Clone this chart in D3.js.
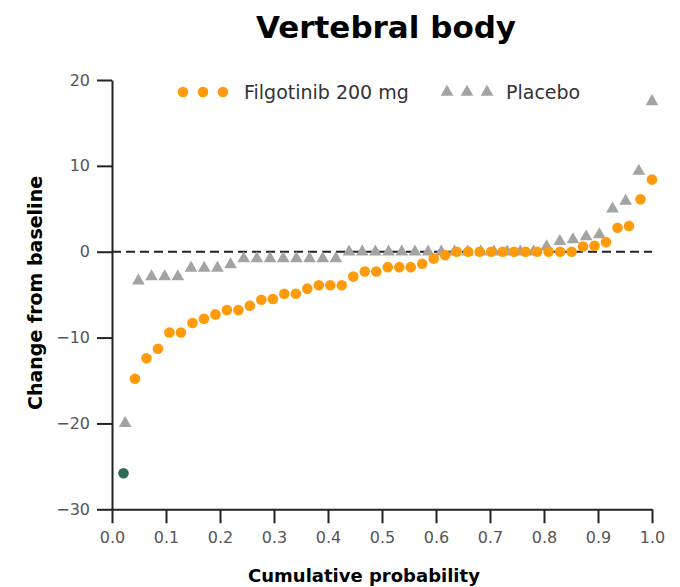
<!DOCTYPE html>
<html>
<head>
<meta charset="utf-8">
<script src="https://cdn.jsdelivr.net/npm/d3@7"></script>
<style>
  body { margin: 0; background: #fff; }
  .axis text { font-family: 'DejaVu Sans', Verdana, sans-serif; font-size: 16px; fill: #555; }
  .axis path, .axis line { stroke: #222; stroke-width: 2px; }
</style>
</head>
<body>
<div class="chart"></div>
<script>
// change from baseline, sorted, one value per patient
var filgoValues = [
  -25.8, -14.8, -12.4, -11.3, -9.4, -9.4, -8.3, -7.8, -7.3, -6.8,
  -6.8, -6.3, -5.6, -5.5, -4.9, -4.9, -4.3, -3.9, -3.9, -3.9,
  -2.9, -2.3, -2.3, -1.8, -1.8, -1.8, -1.4, -0.8, -0.4, 0,
  0, 0, 0, 0, 0, 0, 0, 0, 0, 0,
  0.6, 0.7, 1.1, 2.8, 3.0, 6.1, 8.4
];
var filgoHighlight = [0]; // first point drawn in green

var placeboValues = [
  -20, -3.4, -2.9, -2.9, -2.9, -1.9, -1.9, -1.9, -1.5, -0.8,
  -0.8, -0.8, -0.8, -0.8, -0.8, -0.8, -0.8, 0, 0, 0,
  0, 0, 0, 0, 0, 0, 0, 0, 0, 0,
  0, 0, 0.6, 1.2, 1.4, 1.75, 2.0, 5.0, 5.9, 9.4,
  17.5
];

var xTicks = [0, 0.1, 0.2, 0.3, 0.4, 0.5, 0.6, 0.7, 0.8, 0.9, 1.0];
var yTicks = [-30, -20, -10, 0, 10, 20];
var seriesNames = ['Filgotinib 200 mg', 'Placebo'];

var width = 680,
  height = 587;

var orange = '#FF9A0A',
  grey = '#A3A3A3',
  green = '#2F6B59';

var font = "'DejaVu Sans', Verdana, sans-serif";

var svgEl = d3
  .select('.chart')
  .append('svg')
  .attr('width', width)
  .attr('height', height);

var xScale = d3.scaleLinear().domain([0, 1]).range([112, 652]);
var yScale = d3.scaleLinear().domain([-30, 20]).range([509.3, 80]);

// title
svgEl
  .append('text')
  .attr('x', 386)
  .attr('y', 38)
  .attr('text-anchor', 'middle')
  .style('font-family', font)
  .style('font-weight', 'bold')
  .style('font-size', '31px')
  .text('Vertebral body');

// axes
var xAxis = d3
  .axisBottom(xScale)
  .tickValues(xTicks)
  .tickSize(14)
  .tickSizeOuter(0)
  .tickPadding(8)
  .tickFormat(d3.format('.1f'));

svgEl
  .append('g')
  .attr('class', 'axis')
  .attr('transform', 'translate(0,' + yScale(-30) + ')')
  .call(xAxis);

var yAxis = d3
  .axisLeft(yScale)
  .tickValues(yTicks)
  .tickSize(15)
  .tickSizeOuter(0)
  .tickPadding(7);

svgEl
  .append('g')
  .attr('class', 'axis')
  .attr('transform', 'translate(' + xScale(0) + ',0)')
  .call(yAxis);

// zero line
svgEl
  .append('line')
  .attr('x1', xScale(0))
  .attr('x2', xScale(1))
  .attr('y1', yScale(0))
  .attr('y2', yScale(0))
  .attr('stroke', '#222')
  .attr('stroke-width', 2)
  .attr('stroke-dasharray', '9,5');

// axis titles
svgEl
  .append('text')
  .attr('x', 364)
  .attr('y', 582)
  .attr('text-anchor', 'middle')
  .style('font-family', font)
  .style('font-weight', 'bold')
  .style('font-size', '18px')
  .text('Cumulative probability');

svgEl
  .append('text')
  .attr('transform', 'rotate(-90)')
  .attr('x', -293)
  .attr('y', 42)
  .attr('text-anchor', 'middle')
  .style('font-family', font)
  .style('font-weight', 'bold')
  .style('font-size', '19px')
  .text('Change from baseline');

var tri = d3.symbol().type(d3.symbolTriangle).size(70);

// placebo triangles
svgEl
  .append('g')
  .selectAll('path')
  .data(placeboValues)
  .enter()
  .append('path')
  .attr('d', tri)
  .attr('transform', (d, i) =>
    'translate(' + xScale((i + 1) / placeboValues.length) + ',' + yScale(d) + ')'
  )
  .style('fill', grey);

// filgotinib dots
svgEl
  .append('g')
  .selectAll('circle')
  .data(filgoValues)
  .enter()
  .append('circle')
  .attr('cx', (d, i) => xScale((i + 1) / filgoValues.length))
  .attr('cy', (d) => yScale(d))
  .attr('r', 5.3)
  .style('fill', (d, i) => (filgoHighlight.indexOf(i) >= 0 ? green : orange));

// legend
var legend = svgEl.append('g');
[183, 203, 223].forEach((x) => {
  legend.append('circle').attr('cx', x).attr('cy', 92).attr('r', 5.3).style('fill', orange);
});
legend
  .append('text')
  .attr('x', 244)
  .attr('y', 99)
  .style('font-family', font)
  .style('font-size', '19px')
  .style('fill', '#333')
  .text(seriesNames[0]);
[447, 467, 487].forEach((x) => {
  legend
    .append('path')
    .attr('d', tri)
    .attr('transform', 'translate(' + x + ',92)')
    .style('fill', grey);
});
legend
  .append('text')
  .attr('x', 506)
  .attr('y', 99)
  .style('font-family', font)
  .style('font-size', '19px')
  .style('fill', '#333')
  .text(seriesNames[1]);
</script>
</body>
</html>
